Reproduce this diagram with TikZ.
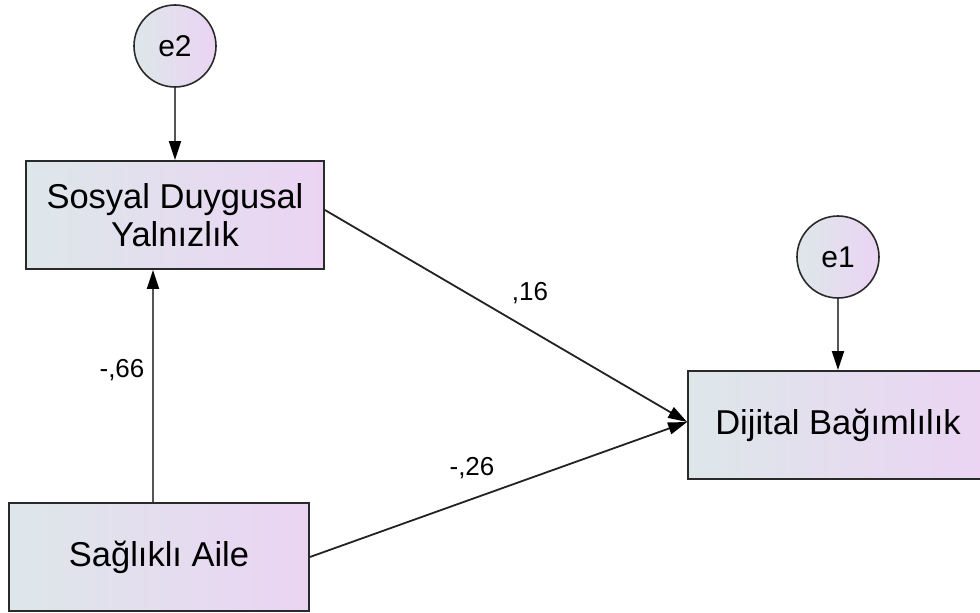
\documentclass[tikz,border=0pt]{standalone}
\usepackage{fontspec}
\setmainfont{Liberation Sans}
\usetikzlibrary{arrows.meta}
\definecolor{gl}{HTML}{DDE7EA}
\definecolor{gr}{HTML}{EBD4F3}
\definecolor{bd}{HTML}{2A2A2A}
\definecolor{ln}{HTML}{222222}
\definecolor{lnv}{HTML}{555555}
\tikzset{
  varbox/.style={draw=bd, line width=1.8pt, left color=gl, right color=gr, shading angle=90,
    minimum width=298pt, minimum height=108pt, inner sep=0pt, align=center,
    font=\fontsize{34.5}{38}\selectfont, text=black},
  errc/.style={circle, draw=bd, line width=1.6pt, left color=gl, right color=gr,
    minimum size=82pt, inner sep=0pt, font=\fontsize{30}{34}\selectfont, text=black},
  arr/.style={-{Triangle[length=19pt,width=12pt,color=black]}, line width=1.8pt, draw=ln},
  varr/.style={-{Triangle[length=19pt,width=12pt,color=black]}, line width=2pt, draw=lnv},
  lbl/.style={font=\fontsize{26}{30}\selectfont, text=black, inner sep=0pt}
}
\begin{document}
\begin{tikzpicture}[x=1pt,y=-1pt]
\useasboundingbox (0,0) rectangle (980,613);
\node[varbox] (sos) at (175,215) {Sosyal Duygusal\\Yalnızlık};
\node[varbox, minimum width=300pt] (sag) at (159,557) {Sağlıklı Aile};
\node[varbox, minimum width=300pt] (dij) at (838,425) {Dijital Bağımlılık};
\node[errc] (e2) at (175,46) {e2};
\node[errc] (e1) at (838,257) {e1};
\draw[varr] (e2) -- (sos);
\draw[varr] (e1) -- (dij);
\draw[varr] ([xshift=-6pt]sag.north) -- ([xshift=-6pt]sag.north |- sos.south);
\draw[arr] ([yshift=5pt]sos.east) -- ([yshift=3pt]dij.west);
\draw[arr] (sag.east) -- ([yshift=3pt]dij.west);
\node[lbl] (l16) at (530,293) {,16};
\node[lbl] (l26) at (472,468) {-,26};
\node[lbl] (l66) at (122,370) {-,66};
\end{tikzpicture}
\end{document}
